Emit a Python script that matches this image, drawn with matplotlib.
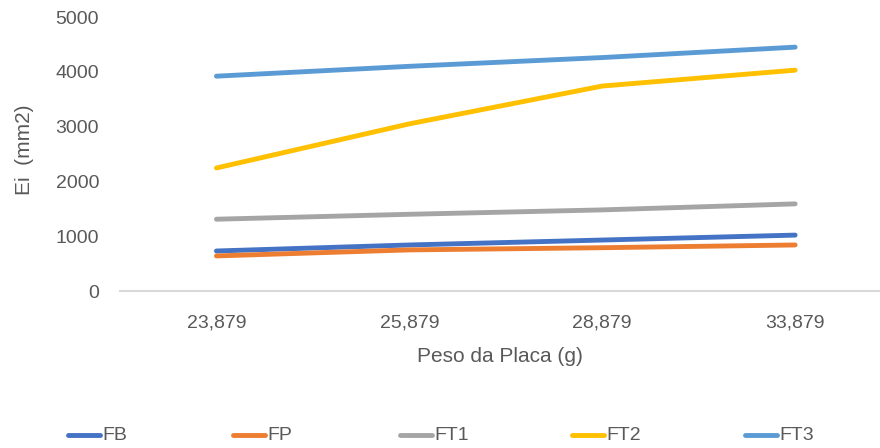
import matplotlib
matplotlib.use('Agg')
import matplotlib.pyplot as plt
from matplotlib.lines import Line2D

plt.rcParams['font.family'] = ['Liberation Sans', 'DejaVu Sans']

# Data
categories = ['23,879', '25,879', '28,879', '33,879']
fb = [730, 840, 930, 1020]
fp = [640, 750, 790, 840]
ft1 = [1310, 1400, 1480, 1590]
ft2 = [2245, 3050, 3740, 4030]
ft3 = [3920, 4100, 4260, 4450]

names = ['FB', 'FP', 'FT1', 'FT2', 'FT3']
series = [fb, fp, ft1, ft2, ft3]
colors = ['#4472C4', '#ED7D31', '#A5A5A5', '#FFC000', '#5B9BD5']
text_c = '#595959'

fig = plt.figure(figsize=(8.8, 4.48), dpi=100)
ax = fig.add_axes([120 / 880, 157 / 448, 760 / 880, 274 / 448])

x = range(len(categories))
for vals, c in zip(series, colors):
    ax.plot(x, vals, color=c, lw=3.5, solid_capstyle='round')

ax.set_xlim(-0.5, 3.44)
ax.set_ylim(0, 5000)
ax.set_xticks(list(x))
ax.set_xticklabels(categories)
ax.set_yticks(range(0, 5001, 1000))
ax.tick_params(length=0, labelsize=14, colors=text_c)
ax.tick_params(axis='x', pad=17)
ax.tick_params(axis='y', pad=15)
for s in ['top', 'right', 'left']:
    ax.spines[s].set_visible(False)
ax.spines['bottom'].set_color('#D9D9D9')
ax.spines['bottom'].set_linewidth(1.5)

ax.set_xlabel('Peso da Placa (g)', fontsize=15, color=text_c, labelpad=11)
fig.text(25 / 880, 1 - 150 / 448, 'Ei  (mm2)', rotation=90, fontsize=15,
         color=text_c, ha='center', va='center')

# legend entries
leg_x = [68, 233, 400, 572, 745]
for name, c, lx in zip(names, colors, leg_x):
    fig.add_artist(Line2D([lx / 880, (lx + 32) / 880], [1 - 435 / 448] * 2,
                          color=c, lw=3.5, solid_capstyle='round'))
    fig.text((lx + 34) / 880, 1 - 435 / 448, name, fontsize=14, color=text_c,
             ha='left', va='center')

fig.savefig('out.png', dpi=100)
